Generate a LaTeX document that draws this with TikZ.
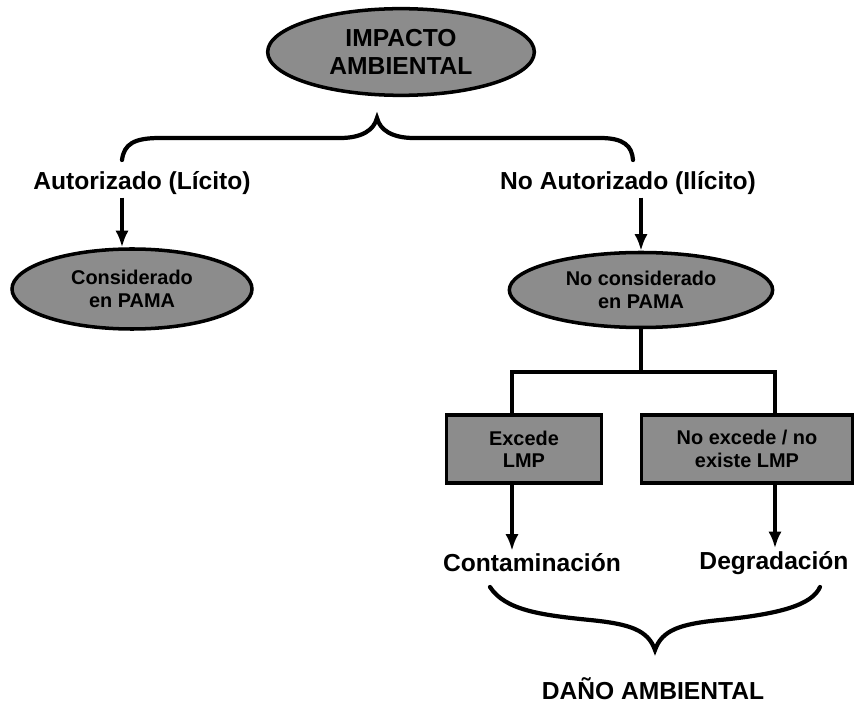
\documentclass[tikz,border=0pt]{standalone}
\usepackage{fontspec}
\setmainfont{Liberation Sans}
\usetikzlibrary{arrows.meta,shapes.geometric}

\begin{document}
\begin{tikzpicture}[x=0.03cm,y=-0.03cm,line width=3.4pt,->,>={Latex[length=5mm,width=4mm]}]
    \tikzstyle{blob}=[ellipse,draw=black,line width=3pt,fill=black!45,align=center,inner sep=0pt,
                      font=\bfseries\fontsize{17}{19}\selectfont]
    \tikzstyle{main blob}=[blob,minimum width=8cm,minimum height=2.6cm,
                           font=\bfseries\fontsize{21}{24}\selectfont]
    \tikzstyle{lmp box}=[rectangle,draw=black,line width=3pt,fill=black!45,align=center,
                         minimum height=2.04cm,font=\bfseries\fontsize{17}{19}\selectfont]
    \tikzstyle{tag}=[inner sep=1pt,font=\bfseries\fontsize{21}{24}\selectfont]
    \tikzstyle{brace}=[-,line width=3.6pt,line cap=round]

    \useasboundingbox (0,0) rectangle (856,707);

    % Draw the top node
    \node[main blob] (impacto) at (401,52) {IMPACTO\\AMBIENTAL};

    % Draw the two kinds of impact
    \node[tag] (aut) at (142,183) {Autorizado (Lícito)};
    \node[tag] (noaut) at (628,183) {No Autorizado (Ilícito)};
    \node[blob,minimum width=7.2cm,minimum height=2.4cm] (cons) at (132,289) {Considerado\\en PAMA};
    \node[blob,minimum width=7.9cm,minimum height=2.25cm] (nocons) at (641,290) {No considerado\\en PAMA};

    % Draw the LMP boxes
    \node[lmp box,minimum width=4.65cm] (excede) at (524,449) {Excede\\LMP};
    \node[lmp box,minimum width=6.33cm] (noexcede) at (747,449) {No excede / no\\existe LMP};

    % Draw the results
    \node[tag] (contam) at (532,563) {Contaminación};
    \node[tag] (degrad) at (774,563) {Degradación};
    \node[tag] (dano) at (653,689) {DAÑO AMBIENTAL};

    % Split points under the right ellipse
    \coordinate (split-l) at (512,372);
    \coordinate (split-r) at (775,372);

    % Arrows
    \draw (aut.south -| 122,0) -- (cons.north -| 122,0);
    \draw (noaut.south -| nocons.north) -- (nocons.north);
    \draw[-] (nocons.south) -- (nocons.south |- split-l);
    \draw[-] (excede.north -| split-l) -- (split-l) -- (split-r) -- (noexcede.north -| split-r);
    \draw (excede.south -| split-l) -- (contam.north -| split-l);
    \draw (noexcede.south -| split-r) -- (degrad.north -| split-r);

    % Braces
    \draw[brace] (122,160) .. controls (124,144) and (134,138) .. (160,138) -- (340,138)
        .. controls (362,138) and (374,130) .. (377,118)
        .. controls (380,130) and (392,138) .. (414,138) -- (600,138)
        .. controls (624,138) and (632,146) .. (633,160);
    \draw[brace] (490,587) .. controls (505,610) and (540,615) .. (590,620)
        .. controls (630,624) and (648,630) .. (655,650)
        .. controls (662,630) and (680,624) .. (720,620)
        .. controls (780,614) and (812,605) .. (820,587);
\end{tikzpicture}
\end{document}
